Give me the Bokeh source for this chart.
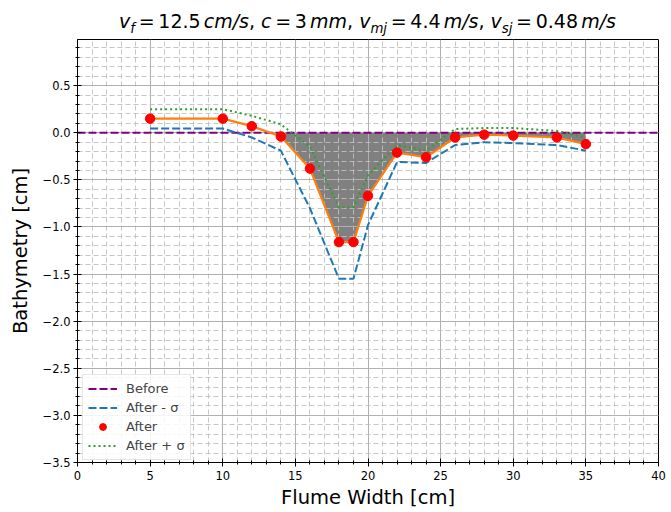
import numpy as np
from bokeh.plotting import figure
from bokeh.layouts import column
from bokeh.models import (Range1d, SingleIntervalTicker, Legend, LegendItem, Div,
                          CustomJSTickFormatter)
from bokeh.embed import file_html
from bokeh.resources import INLINE

# ---------------- data ----------------
flume_x = [5, 10, 12, 14, 16, 18, 19, 20, 22, 24, 26, 28, 30, 33, 35]
after = [0.15, 0.15, 0.07, -0.04, -0.38, -1.16, -1.16, -0.67, -0.21, -0.26, -0.05, -0.02, -0.03, -0.05, -0.12]
after_minus_sigma = [0.045, 0.045, -0.05, -0.19, -0.80, -1.55, -1.55, -0.98, -0.31, -0.32, -0.13, -0.10, -0.11, -0.13, -0.19]
after_plus_sigma = [0.25, 0.25, 0.18, 0.09, -0.15, -0.79, -0.79, -0.45, -0.13, -0.19, 0.04, 0.05, 0.05, 0.02, -0.05]
before_x = [0, 40]
before_y = [0.0, 0.0]

legend_labels = ["Before", "After - σ", "After", "After + σ"]
x_label = "Flume Width [cm]"
y_label = "Bathymetry [cm]"
v_f, c_mm, v_mj, v_sj = "12.5", "3", "4.4", "0.48"

# ---------------- layout ----------------
FONT = "DejaVu Sans"
TITLE_H = 36
W, H = 671, 475
BL, BT = 77, 3
FW, FH = 581, 426
BR, BB = W - BL - FW, H - BT - FH
X0, X1 = 0, 40
Y0, Y1 = -3.5, 0.99

p = figure(width=W, height=H, output_backend="svg", toolbar_location=None, title=None,
           x_range=Range1d(X0, X1), y_range=Range1d(Y0, Y1),
           min_border_left=BL, min_border_right=BR, min_border_top=BT, min_border_bottom=BB)
p.background_fill_color = "white"
p.border_fill_color = "white"
p.outline_line_color = "black"
p.outline_line_width = 1
p.outline_line_alpha = 1

p.xaxis.ticker = SingleIntervalTicker(interval=5, num_minor_ticks=5)
p.yaxis.ticker = SingleIntervalTicker(interval=0.5, num_minor_ticks=5)
p.yaxis.formatter = CustomJSTickFormatter(code="return tick.toFixed(1).replace('-', '\u2212');")
p.xaxis.formatter = CustomJSTickFormatter(code="return tick.toFixed(0);")

for ax in (p.xaxis[0], p.yaxis[0]):
    ax.axis_line_color = "black"
    ax.axis_line_width = 1
    ax.major_tick_in = 4
    ax.major_tick_out = 4
    ax.minor_tick_in = 2
    ax.minor_tick_out = 2
    ax.major_tick_line_color = "black"
    ax.minor_tick_line_color = "black"
    ax.major_label_text_font = FONT
    ax.major_label_text_font_size = "11.5px"
    ax.major_label_text_color = "black"
    ax.axis_label_text_font = FONT
    ax.axis_label_text_font_size = "19.5px"
    ax.axis_label_text_font_style = "normal"
    ax.axis_label_text_color = "black"
p.xaxis.major_label_standoff = 4
p.yaxis.major_label_standoff = 3
p.xaxis.axis_label = x_label
p.xaxis.axis_label_standoff = 3
p.yaxis.axis_label = y_label
p.yaxis.axis_label_standoff = 8

for g in (p.xgrid[0], p.ygrid[0]):
    g.grid_line_color = "#b0b0b0"
    g.grid_line_width = 1
    g.minor_grid_line_color = "#c0c0c0"
    g.minor_grid_line_width = 0.9
    g.minor_grid_line_dash = "5 3"

# ---------------- glyphs ----------------
xa = np.array(flume_x, dtype=float)
ya = np.array(after, dtype=float)
mask = ya < 0
p.varea(x=xa[mask], y1=ya[mask], y2=np.zeros(mask.sum()), fill_color="#808080", fill_alpha=1.0, level="image")

r_before = p.line(before_x, before_y, line_color="#800080", line_width=2, line_dash="8 3")
r_minus = p.line(flume_x, after_minus_sigma, line_color="#1f77b4", line_width=2, line_dash="8 3")
r_line = p.line(flume_x, after, line_color="#ff7f0e", line_width=2.2)
r_plus = p.line(flume_x, after_plus_sigma, line_color="#2ca02c", line_width=2, line_dash="2 3")
r_after = p.scatter(flume_x, after, size=9.5, fill_color="#ff0000", line_color="#ff0000", marker="circle")

legend = Legend(items=[LegendItem(label=legend_labels[0], renderers=[r_before]),
                       LegendItem(label=legend_labels[1], renderers=[r_minus]),
                       LegendItem(label=legend_labels[2], renderers=[r_after]),
                       LegendItem(label=legend_labels[3], renderers=[r_plus])],
                location=(5, 2), margin=0, padding=5, spacing=2,
                glyph_width=29, glyph_height=17, label_height=17, label_standoff=9,
                label_text_font=FONT, label_text_font_size="13px",
                border_line_color="#cccccc", border_line_width=1,
                background_fill_color="white", background_fill_alpha=0.85)
p.add_layout(legend)

# ---------------- title (HTML with italics and subscripts) ----------------
def mi(s):
    return f"<i>{s}</i>"
def sub(s):
    return f'<span style="font-size:13.3px;position:relative;top:4.5px;font-style:italic">{s}</span>'
EQ = '<span style="margin:0 3.7px">=</span>'
def unit(s):
    return f'<i style="margin-left:3.1px">{s}</i>'
title_html = (mi("v") + sub("f") + EQ + v_f + unit("cm/s") + ", "
              + mi("c") + EQ + c_mm + unit("mm") + ", "
              + mi("v") + sub("mj") + EQ + v_mj + unit("m/s") + ", "
              + mi("v") + sub("sj") + EQ + v_sj + unit("m/s"))
title = Div(text=title_html, width=FW, height=TITLE_H, margin=(0, 0, 0, BL),
            styles={"font-family": FONT, "font-size": "19px", "line-height": "22px",
                    "padding-top": "10px", "text-align": "center", "color": "black",
                    "white-space": "nowrap", "box-sizing": "border-box"})

layout = column(title, p, spacing=0)
open("out.html", "w").write(file_html(layout, INLINE))
